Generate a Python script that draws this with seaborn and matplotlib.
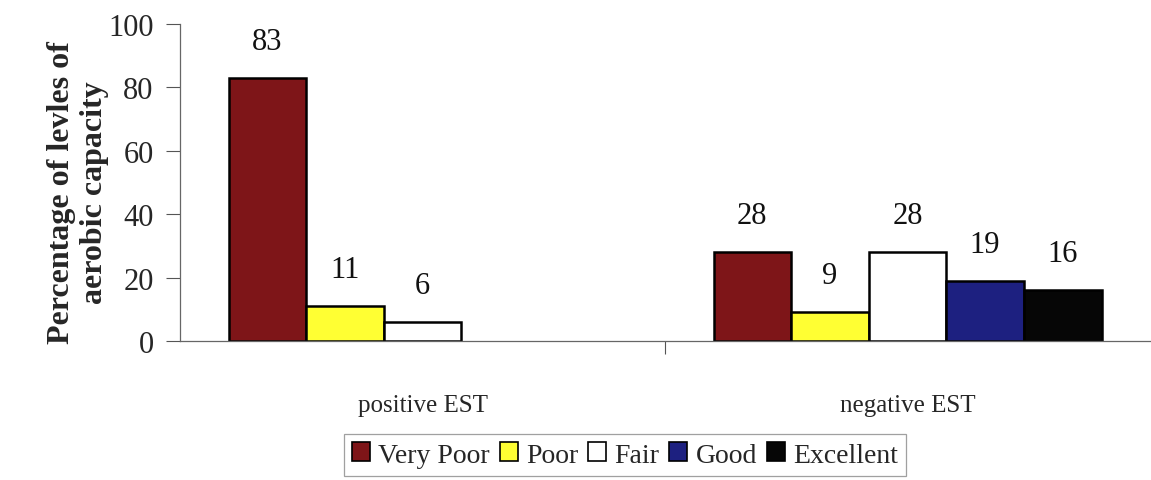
import numpy as np
import pandas as pd
import seaborn as sns
import matplotlib.pyplot as plt
from matplotlib.ticker import FixedLocator

# Aerobic capacity levels by EST result (percent)
groups = ["positive EST", "negative EST"]
levels = ["Very Poor", "Poor", "Fair", "Good", "Excellent"]
positive_est = [83, 11, 6, np.nan, np.nan]
negative_est = [28, 9, 28, 19, 16]
level_colors = ["#7e1518", "#ffff33", "#ffffff", "#1d2080", "#060606"]
y_ticks = [0, 20, 40, 60, 80, 100]

rows = []
for grp, vals in zip(groups, [positive_est, negative_est]):
    for lvl, v in zip(levels, vals):
        rows.append({"group": grp, "level": lvl, "value": v})
df = pd.DataFrame(rows)

sns.set_theme(style="white")
plt.rcParams["font.family"] = ["Liberation Serif", "DejaVu Serif"]

fig = plt.figure(figsize=(11.51, 4.81), dpi=100)
ax = fig.add_axes([180 / 1151, 139 / 481, 970 / 1151, 317 / 481])

sns.barplot(data=df, x="group", y="value", hue="level", order=groups,
            hue_order=levels, palette=level_colors, width=0.8,
            edgecolor="black", linewidth=1.8, saturation=1, errorbar=None,
            legend=False, ax=ax)

for cont in ax.containers:
    ax.bar_label(cont, fmt="%d", padding=16, fontsize=22, color="#111111")

ax.set_ylim(0, 100)
ax.set_xlim(-0.5, 1.5)
ax.set_yticks(y_ticks)
ax.tick_params(axis="y", direction="out", length=10, width=0.8,
               color="#555555", labelsize=22, pad=9, left=True)
ax.tick_params(axis="x", which="major", length=0, pad=38, labelsize=18)
ax.xaxis.set_minor_locator(FixedLocator([0.5]))
ax.tick_params(axis="x", which="minor", direction="out", length=9,
               width=0.8, color="#555555", bottom=True)
ax.set_xlabel("")
ax.set_ylabel("Percentage of levles of\naerobic capacity",
              fontsize=23, fontweight="bold", labelpad=4, linespacing=1.2)
ax.yaxis.set_label_coords(-0.073, 0.47)

for side in ["top", "right"]:
    ax.spines[side].set_visible(False)
for side in ["left", "bottom"]:
    ax.spines[side].set_color("#666666")
    ax.spines[side].set_linewidth(0.9)

handles = [plt.Rectangle((0, 0), 1, 1, facecolor=c, edgecolor="black",
                         linewidth=1.2) for c in level_colors]
leg = fig.legend(handles, levels, loc="center",
                 bbox_to_anchor=(625 / 1151, 1 - 456 / 481), ncol=5,
                 fontsize=20, frameon=True, fancybox=False,
                 handlelength=0.65, handleheight=0.65, handletextpad=0.3,
                 columnspacing=0.35, borderpad=0.3, edgecolor="#888888")
leg.get_frame().set_linewidth(0.9)

fig.savefig("out.png", dpi=100)
